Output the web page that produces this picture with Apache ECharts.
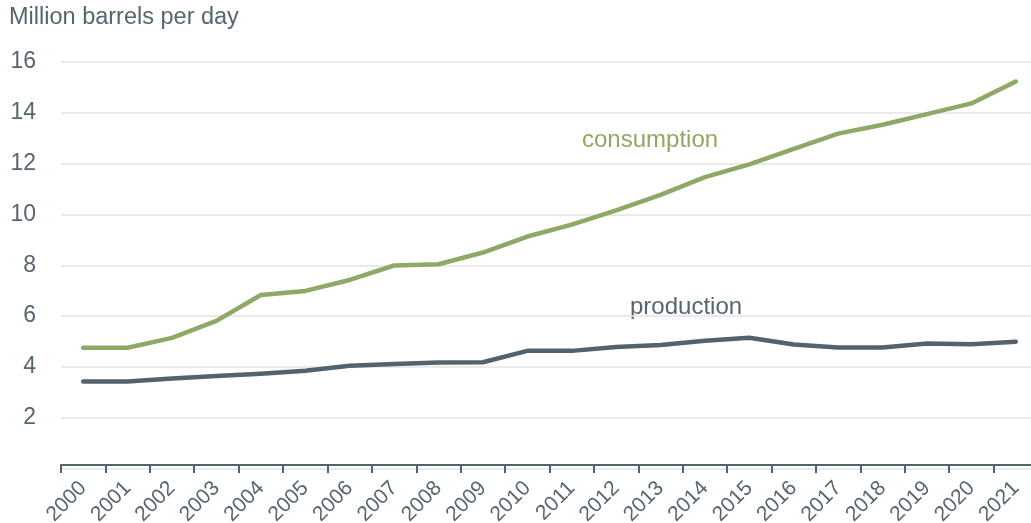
<!doctype html>
<html>
<head>
	<meta charset="utf-8">
	<title></title>
	<script src="https://cdn.jsdelivr.net/npm/echarts@6/dist/echarts.min.js"></script>
	<style>
		html, body { margin: 0; padding: 0; background: #fff; }
		#main { width: 1031px; height: 523px; }
	</style>
</head>
<body>
	<div id="main"></div>
	<script type="text/javascript">
		var years = ['2000', '2001', '2002', '2003', '2004', '2005', '2006', '2007', '2008', '2009', '2010',
			'2011', '2012', '2013', '2014', '2015', '2016', '2017', '2018', '2019', '2020', '2021'];
		var consumption = [4.75, 4.75, 5.14, 5.81, 6.83, 6.99, 7.42, 7.99, 8.04, 8.50, 9.13,
			9.60, 10.16, 10.77, 11.47, 11.97, 12.58, 13.18, 13.53, 13.95, 14.37, 15.23];
		var production = [3.42, 3.42, 3.54, 3.64, 3.73, 3.85, 4.04, 4.11, 4.17, 4.18, 4.63,
			4.63, 4.78, 4.86, 5.03, 5.15, 4.88, 4.76, 4.76, 4.92, 4.89, 4.99];

		var textColor = '#56666f';
		var green = '#8fa866';
		var slate = '#52636d';
		var font = 'Liberation Sans, Arial, sans-serif';

		var myChart = echarts.init(document.getElementById('main'));

		var option = {
			animation: false,
			backgroundColor: '#fff',
			textStyle: { fontFamily: font },
			grid: {
				left: 61,
				right: -7,
				top: 62,
				bottom: 54.5,
				containLabel: false,
				outerBoundsMode: 'none'
			},
			graphic: [
				{ type: 'text', left: 9, top: 6, style: { text: 'Million barrels per day', fill: textColor, font: '23.5px ' + font } },
				{ type: 'text', left: 582, top: 128, style: { text: 'consumption', fill: green, font: '24px ' + font } },
				{ type: 'text', left: 630, top: 295, style: { text: 'production', fill: textColor, font: '24px ' + font } }
			],
			xAxis: {
				type: 'category',
				data: years,
				boundaryGap: true,
				offset: -3.5,
				axisLine: { lineStyle: { color: slate, width: 2 } },
				axisTick: { show: true, length: 8, lineStyle: { color: slate, width: 2 } },
				axisLabel: { rotate: 45, margin: 20, color: textColor, fontSize: 21, fontFamily: font, interval: 0 },
				splitLine: { show: false }
			},
			yAxis: {
				type: 'value',
				min: 0,
				max: 16,
				interval: 2,
				axisLine: { show: false },
				axisTick: { show: false },
				axisLabel: {
					margin: 25,
					color: textColor,
					fontSize: 23,
					fontFamily: font,
					formatter: function(v) { return v === 0 ? '' : v; }
				},
				splitLine: { lineStyle: { color: '#e3e3e3', width: 1.5 } }
			},
			series: [{
				name: 'consumption',
				type: 'line',
				data: consumption,
				showSymbol: false,
				lineStyle: { color: green, width: 4.5, cap: 'round', join: 'round' },
				itemStyle: { color: green }
			}, {
				name: 'production',
				type: 'line',
				data: production,
				showSymbol: false,
				lineStyle: { color: slate, width: 4.5, cap: 'round', join: 'round' },
				itemStyle: { color: slate }
			}]
		};

		myChart.setOption(option);
	</script>
</body>
</html>
